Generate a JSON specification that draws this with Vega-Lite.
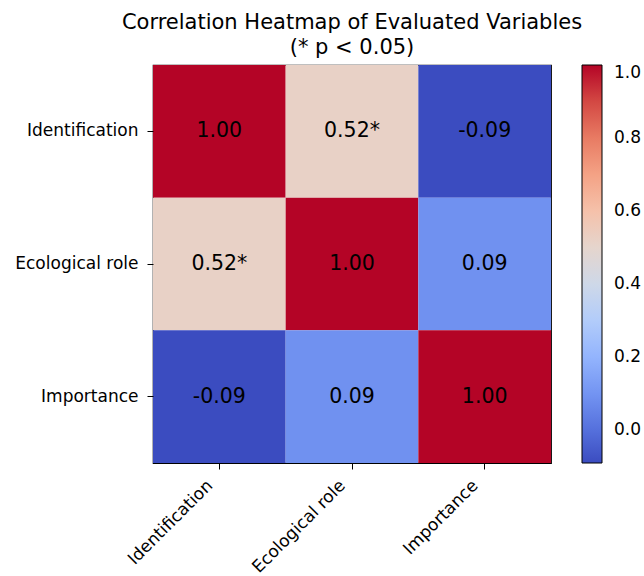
{
  "$schema": "https://vega.github.io/schema/vega-lite/v6.json",
  "autosize": {"type": "none"},
  "padding": {"left": 153, "top": 65, "right": 93, "bottom": 113},
  "width": 398,
  "height": 398,
  "background": "white",
  "config": {
    "font": "DejaVu Sans",
    "view": {"stroke": "black", "strokeWidth": 1.2}
  },
  "title": {
    "text": ["Correlation Heatmap of Evaluated Variables", "(* p < 0.05)"],
    "fontSize": 21,
    "fontWeight": "normal",
    "font": "DejaVu Sans",
    "color": "black",
    "anchor": "middle",
    "offset": 7,
    "lineHeight": 25
  },
  "data": {
    "values": [
      {"x": "Identification", "y": "Identification", "value": 1.0, "label": "1.00"},
      {"x": "Ecological role", "y": "Identification", "value": 0.52, "label": "0.52*"},
      {"x": "Importance", "y": "Identification", "value": -0.09, "label": "-0.09"},
      {"x": "Identification", "y": "Ecological role", "value": 0.52, "label": "0.52*"},
      {"x": "Ecological role", "y": "Ecological role", "value": 1.0, "label": "1.00"},
      {"x": "Importance", "y": "Ecological role", "value": 0.09, "label": "0.09"},
      {"x": "Identification", "y": "Importance", "value": -0.09, "label": "-0.09"},
      {"x": "Ecological role", "y": "Importance", "value": 0.09, "label": "0.09"},
      {"x": "Importance", "y": "Importance", "value": 1.0, "label": "1.00"}
    ]
  },
  "encoding": {
    "x": {
      "field": "x", "type": "nominal",
      "sort": ["Identification", "Ecological role", "Importance"],
      "scale": {"paddingInner": 0, "paddingOuter": 0},
      "axis": {
        "title": null, "labelAngle": -45, "labelAlign": "right", "labelBaseline": "bottom",
        "labelFontSize": 17, "labelColor": "black", "tickColor": "black", "tickSize": 6,
        "domain": false, "labelPadding": 20, "labelOffset": -3
      }
    },
    "y": {
      "field": "y", "type": "nominal",
      "sort": ["Identification", "Ecological role", "Importance"],
      "scale": {"paddingInner": 0, "paddingOuter": 0},
      "axis": {
        "title": null, "labelFontSize": 17, "labelColor": "black", "tickColor": "black",
        "tickSize": 6, "domain": false, "labelPadding": 9
      }
    }
  },
  "layer": [
    {
      "mark": {"type": "rect"},
      "encoding": {
        "color": {
          "field": "value", "type": "quantitative",
          "scale": {
            "domain": [-0.09, 0.04625, 0.1825, 0.31875, 0.455, 0.59125, 0.7275, 0.86375, 1.0],
            "range": ["#3b4cc0", "#6282ea", "#8db0fe", "#b8d0f9", "#dddddd", "#f5c4ad", "#f49a7b", "#de604d", "#b40426"],
            "interpolate": "rgb"
          },
          "legend": {
            "title": null,
            "orient": "right",
            "offset": 31,
            "padding": 0,
            "gradientLength": 398,
            "gradientThickness": 20,
            "gradientStrokeColor": "black",
            "gradientStrokeWidth": 1,
            "values": [0.0, 0.2, 0.4, 0.6, 0.8, 1.0],
            "format": ".1f",
            "labelFontSize": 17,
            "labelColor": "black",
            "labelOffset": 12,
            "labelOverlap": false,
            "labelBaseline": "middle"
          }
        }
      }
    },
    {
      "mark": {"type": "text", "fontSize": 20.5, "color": "black"},
      "encoding": {"text": {"field": "label"}}
    }
  ]
}
